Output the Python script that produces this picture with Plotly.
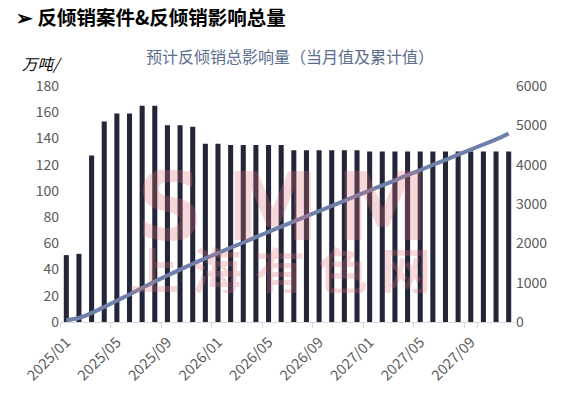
import plotly.graph_objects as go

# ---- data ----
months = [f"{y}/{m:02d}" for y in (2025, 2026, 2027) for m in range(1, 13)]
monthly = [51, 52, 127, 153, 159, 159, 165, 165, 150, 150, 149, 136,
           136, 135, 135, 135, 135, 135, 131, 131, 131, 131, 131, 131,
           130, 130, 130, 130, 130, 130, 130, 130, 130, 130, 130, 130]
cumulative = [51, 103, 230, 383, 542, 701, 866, 1031, 1181, 1331, 1480, 1616,
              1752, 1887, 2022, 2157, 2292, 2427, 2558, 2689, 2820, 2951, 3082, 3213,
              3343, 3473, 3603, 3733, 3863, 3993, 4123, 4253, 4383, 4513, 4643, 4790]
tick_months = months[::4]
left_ticks = list(range(0, 181, 20))
right_ticks = list(range(0, 6001, 1000))

W, H = 581, 397
L, R, T, B = 60, 515, 86, 322

def px(x):
    return (x - L) / (R - L)

def py(y):
    return (B - y) / (B - T)

FONT = "Noto Sans CJK SC, Noto Sans, sans-serif"

fig = go.Figure()
fig.add_trace(go.Bar(x=months, y=monthly, marker_color="#232639",
                     marker_line_width=0, name="当月值"))
fig.add_trace(go.Scatter(x=months, y=cumulative, yaxis="y2", mode="lines",
                         line=dict(color="#6E80AA", width=4, shape="spline"),
                         name="累计值"))

ann = []
# watermark
wm_color = "rgba(222,115,122,0.28)"
for ch, xc in (("S", 170), ("M", 273), ("M", 383)):
    ann.append(dict(text="<b>" + ch + "</b>", x=px(xc), y=py(207), xref="paper", yref="paper",
                    showarrow=False, xanchor="center", yanchor="middle", height=74, valign="middle",
                    font=dict(family="DejaVu Sans", size=94, color=wm_color)))
for i, ch in enumerate("上海有色网"):
    ann.append(dict(text="<b>" + ch + "</b>", x=px(154 + 63 * i), y=py(268), xref="paper", yref="paper",
                    showarrow=False, xanchor="center", yanchor="middle", height=50,
                    font=dict(family="Noto Sans CJK SC", size=50, color=wm_color)))
# titles
ann.append(dict(text="<b>➢ 反倾销案件&反倾销影响总量</b>", x=px(14), y=py(17), xref="paper", yref="paper",
                showarrow=False, xanchor="left", yanchor="middle",
                font=dict(family=FONT, size=19.5, color="#000000")))
ann.append(dict(text="预计反倾销总影响量（当月值及累计值）", x=px(290), y=py(56), xref="paper", yref="paper",
                showarrow=False, xanchor="center", yanchor="middle",
                font=dict(family=FONT, size=16, color="#5B6D8E")))
ann.append(dict(text="<i>万吨/</i>", x=px(20), y=py(63), xref="paper", yref="paper",
                showarrow=False, xanchor="left", yanchor="middle",
                font=dict(family=FONT, size=15.5, color="#000000")))

fig.update_layout(
    width=W, height=H,
    margin=dict(l=L, r=W - R, t=T, b=H - B, pad=0),
    paper_bgcolor="white", plot_bgcolor="white",
    showlegend=False, bargap=0.6,
    font=dict(family=FONT, color="#595959"),
    annotations=ann,
    xaxis=dict(type="category", tickmode="array", tickvals=tick_months, ticktext=tick_months,
               tickson="boundaries", ticks="outside", ticklen=5, tickcolor="#D9D9D9",
               showline=True, linecolor="#D9D9D9", linewidth=1, showgrid=False,
               tickangle=-45, tickfont=dict(size=14.5, color="#595959"),
               ticklabelstandoff=5,
               range=[-0.5, len(months) - 0.5]),
    yaxis=dict(range=[0, 180], tickvals=left_ticks, showgrid=False, zeroline=False,
               showline=False, ticks="", tickfont=dict(size=14, color="#595959")),
    yaxis2=dict(range=[0, 6000], tickvals=right_ticks, overlaying="y", side="right",
                showgrid=False, zeroline=False, showline=False, ticks="",
                tickfont=dict(size=14, color="#595959")),
)

fig.write_html("out.html", config={"displayModeBar": False},
               post_script="document.body.style.margin='0';")
